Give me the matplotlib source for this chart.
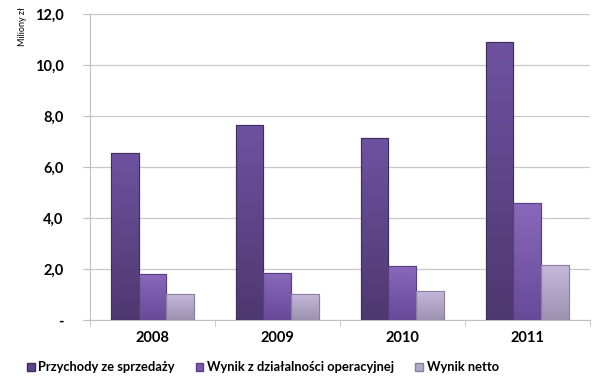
import matplotlib
matplotlib.use("Agg")
import matplotlib.pyplot as plt
import numpy as np
from matplotlib.colors import LinearSegmentedColormap
from matplotlib.patches import Patch

years = ["2008", "2009", "2010", "2011"]
series_names = ["Przychody ze sprzedaży", "Wynik z działalności operacyjnej", "Wynik netto"]
przychody = [6.55, 7.65, 7.13, 10.9]
wynik_oper = [1.8, 1.85, 2.12, 4.6]
wynik_netto = [1.02, 1.02, 1.15, 2.15]
yticks = [0, 2, 4, 6, 8, 10, 12]
ytick_labels = ["-", "2,0", "4,0", "6,0", "8,0", "10,0", "12,0"]

colors = [("#4e3870", "#6e52a0"), ("#684a98", "#8a68bb"), ("#9d92b0", "#c6b8da")]
edges = ["#3f2d5c", "#5a3f85", "#8a80a0"]
legend_colors = ["#5f4489", "#7b59ad", "#b3a8c6"]

plt.rcParams['font.family'] = ['Lato', 'DejaVu Sans']
fig = plt.figure(figsize=(6, 3.86), dpi=100)
ax = fig.add_axes([0.15, 0.171, 0.833, 0.793])

x = np.arange(len(years))
w = 0.223
data = [przychody, wynik_oper, wynik_netto]
for i, vals in enumerate(data):
    offs = (i - 1) * w
    bars = ax.bar(x + offs, vals, w, color=legend_colors[i], edgecolor=edges[i], linewidth=0.8, zorder=3)
    cmap = LinearSegmentedColormap.from_list("g%d" % i, [colors[i][0], colors[i][1]])
    for b in bars:
        bx, by = b.get_x(), b.get_y()
        bw, bh = b.get_width(), b.get_height()
        grad = np.linspace(0, 1, 100).reshape(-1, 1)
        im = ax.imshow(grad, extent=[bx, bx + bw, by, by + bh], origin="lower",
                       cmap=cmap, aspect="auto", zorder=3.5)
        im.set_clip_path(b)
        ax.bar(bx + bw / 2, 0.09, bw * 0.96, bottom=by + bh - 0.1,
               color=colors[i][1], alpha=0.8, zorder=4, linewidth=0)
        ax.bar(bx + bw / 2, bh, bw, bottom=by, fill=False, edgecolor=edges[i], linewidth=0.8, zorder=5)

ax.set_xlim(-0.5, len(years) - 0.5)
ax.set_ylim(0, 12)
ax.set_yticks(yticks)
ax.set_yticklabels(ytick_labels, fontsize=10.5, fontweight="bold")
ax.set_xticks(x)
ax.set_xticklabels(years, fontsize=10.5, fontweight="bold")
ax.tick_params(axis="x", length=0, pad=8)
ax.set_xticks(np.arange(-0.5, len(years)), minor=True)
ax.tick_params(axis="x", which="minor", length=4, color="#bfbfbf", direction="out")
ax.tick_params(axis="y", length=5, color="#bfbfbf", pad=14)
ax.grid(axis="y", color="#c8c8c8", linewidth=0.9, zorder=0)
ax.set_axisbelow(True)
for s in ["top", "right"]:
    ax.spines[s].set_visible(False)
ax.spines["left"].set_color("#bfbfbf")
ax.spines["bottom"].set_color("#bfbfbf")

fig.text(0.037, 0.93, "Miliony zł", rotation=90, fontsize=6.5, ha="center", va="center")

handles = [Patch(facecolor=legend_colors[i], edgecolor=edges[i], label=series_names[i]) for i in range(3)]
fig.legend(handles=handles, loc="center", bbox_to_anchor=(0.438, 0.048), ncol=3, frameon=False,
           prop={"weight": "bold", "size": 9.3}, handlelength=0.6, handleheight=0.6,
           handletextpad=0.3, columnspacing=1.6)

fig.savefig("out.png", dpi=100)
